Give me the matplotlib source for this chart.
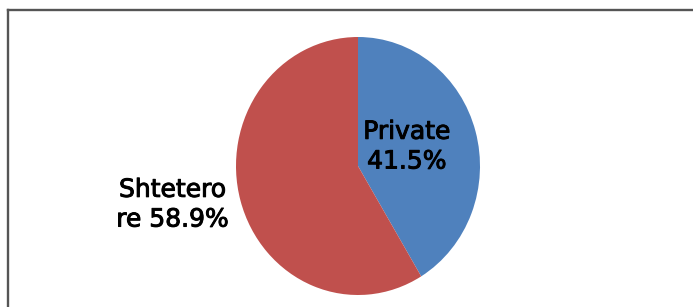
import matplotlib.pyplot as plt
import matplotlib.patheffects as pe
from matplotlib.lines import Line2D

W, H = 693, 307

labels = ['Private\n41.5%', 'Shtetero\nre 58.9%']
values = [41.5, 58.9]
colors = ['#4F81BD', '#C0504D']

fig = plt.figure(figsize=(W / 100, H / 100), dpi=100)
fig.patch.set_facecolor('white')

# pie area in pixels: x 236..480, y 37..295 (slightly taller than wide)
ax = fig.add_axes([236 / W, (H - 295) / H, 244 / W, 258 / H])
wedges, texts = ax.pie(values, labels=labels, colors=colors, startangle=90,
                       counterclock=False, wedgeprops=dict(linewidth=0))
ax.set_aspect('auto')
ax.set_xlim(-1, 1)
ax.set_ylim(-1, 1)
ax.axis('off')

# label positions, in axes data units
label_pos = [(0.40, 0.15), (-1.52, -0.30)]
for t, p in zip(texts, label_pos):
    t.set_position(p)
    t.set_ha('center')
    t.set_va('center')
    t.set_multialignment('center')
    t.set_linespacing(1.3)
    t.set_fontsize(18)
    t.set_color('black')
    t.set_family('DejaVu Sans')
    # the original text is a bit heavier than DejaVu regular
    t.set_path_effects([pe.withStroke(linewidth=0.7, foreground='black')])

# chart frame, only top and left edges are in view
fig.add_artist(Line2D([8 / W, 1], [1 - 9.5 / H, 1 - 9.5 / H], color='#555555', lw=1.7,
                      transform=fig.transFigure))
fig.add_artist(Line2D([8 / W, 8 / W], [0, 1 - 9.5 / H], color='#555555', lw=1.7,
                      transform=fig.transFigure))

fig.savefig('out.png', dpi=100)
